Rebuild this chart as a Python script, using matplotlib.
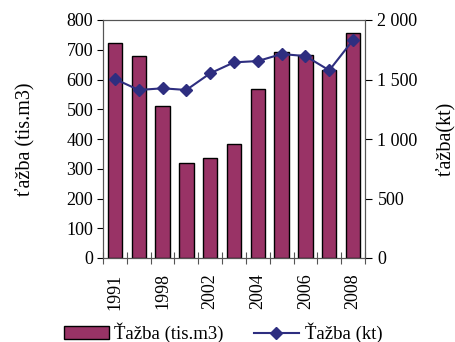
import matplotlib
matplotlib.use("Agg")
import matplotlib.pyplot as plt
from matplotlib.ticker import FixedLocator

plt.rcParams['font.family'] = ['Liberation Serif', 'DejaVu Serif']

years = ['1991', '1995', '1998', '2000', '2002', '2003', '2004', '2005', '2006', '2007', '2008']
shown_labels = ['1991', '', '1998', '', '2002', '', '2004', '', '2006', '', '2008']
tis_m3 = [724, 680, 512, 318, 335, 384, 568, 692, 684, 632, 755]
kt = [1504, 1412, 1426, 1412, 1552, 1644, 1655, 1714, 1697, 1577, 1832]

left_ticks = [0, 100, 200, 300, 400, 500, 600, 700, 800]
right_ticks = [0, 500, 1000, 1500, 2000]
right_tick_labels = ['0', '500', '1 000', '1 500', '2 000']

fig = plt.figure(figsize=(4.55, 3.42), dpi=100)
ax = fig.add_axes([103/455, 1-258/342, (365-103)/455, (258-20)/342])
x = list(range(len(years)))
bars = ax.bar(x, tis_m3, width=0.6, color='#993366', edgecolor='black', linewidth=1.0,
              label='Ťažba (tis.m3)', zorder=2)
ax.set_xlim(-0.5, len(years) - 0.5)
ax.set_ylim(0, 800)
ax.set_yticks(left_ticks)
ax.tick_params(axis='y', direction='out', length=4, labelsize=13, colors='black', width=0.8, pad=3)
ax.set_xticks(x)
ax.set_xticklabels(shown_labels, rotation=90, fontsize=13)
ax.tick_params(axis='x', which='major', length=0, pad=11)
ax.xaxis.set_minor_locator(FixedLocator([i - 0.5 for i in range(len(years) + 1)]))
ax.tick_params(axis='x', which='minor', direction='inout', length=8, width=0.8, color='#555555')
ax.set_ylabel('ťažba (tis.m3)', fontsize=14.5)
ax.yaxis.set_label_coords(-0.262, 0.5)
for s in ax.spines.values():
    s.set_color('#555555')
    s.set_linewidth(0.8)

ax2 = ax.twinx()
line, = ax2.plot(x, kt, color='#2E2E80', marker='D', markersize=6.5, linewidth=1.5,
                 label='Ťažba (kt)', zorder=3)
ax2.set_ylim(0, 2000)
ax2.set_yticks(right_ticks)
ax2.set_yticklabels(right_tick_labels)
ax2.tick_params(axis='y', direction='out', length=5, labelsize=13, width=0.8, pad=4)
ax2.set_ylabel('ťažba(kt)', fontsize=14.5)
ax2.yaxis.set_label_coords(1.272, 0.5)
for s in ax2.spines.values():
    s.set_color('#555555')
    s.set_linewidth(0.8)

fig.legend([bars, line], ['Ťažba (tis.m3)', 'Ťažba (kt)'], loc='center',
           bbox_to_anchor=(0.49, 1 - 333/342), ncol=2, frameon=False, fontsize=13.5,
           handlelength=2.4, handletextpad=0.3, columnspacing=1.6)

fig.savefig('out.png', dpi=100)
